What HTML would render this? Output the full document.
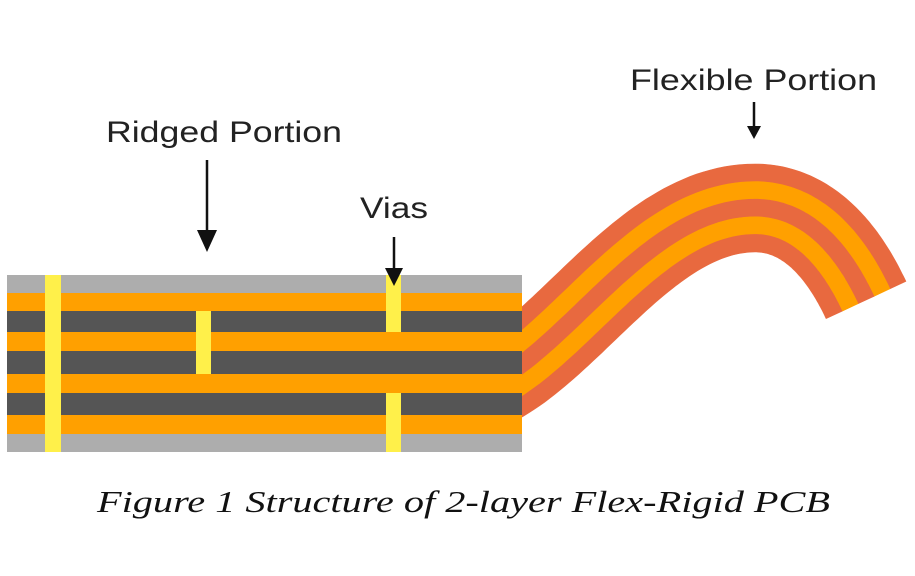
<!DOCTYPE html>
<html><head><meta charset="utf-8"><style>html,body{margin:0;padding:0;background:#fff}svg{display:block}</style></head>
<body>
<svg id="s" width="915" height="576" viewBox="0 0 915 576" xmlns="http://www.w3.org/2000/svg">
<defs><clipPath id="c"><rect x="522" y="0" width="400" height="576"/></clipPath></defs>
<g id="flex" clip-path="url(#c)"></g>
<rect x="7" y="275" width="515" height="18" fill="#ADADAD"/>
<rect x="7" y="293" width="515" height="18" fill="#FFA000"/>
<rect x="7" y="311" width="515" height="21" fill="#555555"/>
<rect x="7" y="332" width="515" height="19" fill="#FFA000"/>
<rect x="7" y="351" width="515" height="23" fill="#555555"/>
<rect x="7" y="374" width="515" height="19" fill="#FFA000"/>
<rect x="7" y="393" width="515" height="22" fill="#555555"/>
<rect x="7" y="415" width="515" height="19" fill="#FFA000"/>
<rect x="7" y="434" width="515" height="18" fill="#ADADAD"/>
<g fill="#FFF04A">
<rect x="45" y="275" width="16" height="177"/>
<rect x="196" y="311" width="15" height="63"/>
<rect x="386" y="275" width="15" height="57"/>
<rect x="386" y="393" width="15" height="59"/>
</g>
<g stroke="#111" stroke-width="2.5">
<line x1="207" y1="160" x2="207" y2="238"/>
<line x1="394" y1="237" x2="394" y2="272"/>
<line x1="754" y1="102" x2="754" y2="128"/>
</g>
<g fill="#111">
<polygon points="197,230 217,230 207,252"/>
<polygon points="385,268 403,268 394,286"/>
<polygon points="747,126 761,126 754,139"/>
</g>
<g font-family="Liberation Sans, Arial, sans-serif" font-size="30" fill="#222">
<text x="106" y="142" textLength="236" lengthAdjust="spacingAndGlyphs">Ridged Portion</text>
<text x="360" y="218" textLength="68" lengthAdjust="spacingAndGlyphs">Vias</text>
<text x="630" y="90" textLength="247" lengthAdjust="spacingAndGlyphs">Flexible Portion</text>
</g>
<text x="97" y="512" font-family="Liberation Serif, serif" font-style="italic" font-size="31" fill="#111" textLength="733" lengthAdjust="spacingAndGlyphs">Figure 1 Structure of 2-layer Flex-Rigid PCB</text>
</svg>
<script>
(function(){
var segs=[[[470,392],[560,367],[640,208],[755,208]],[[755,208],[810,208],[845,255],[866,300]]];
var pts=[];
segs.forEach(function(s,si){
  for(var i=(si?1:0);i<=60;i++){
    var t=i/60,u=1-t;
    var x=u*u*u*s[0][0]+3*u*u*t*s[1][0]+3*u*t*t*s[2][0]+t*t*t*s[3][0];
    var y=u*u*u*s[0][1]+3*u*u*t*s[1][1]+3*u*t*t*s[2][1]+t*t*t*s[3][1];
    var dx=3*u*u*(s[1][0]-s[0][0])+6*u*t*(s[2][0]-s[1][0])+3*t*t*(s[3][0]-s[2][0]);
    var dy=3*u*u*(s[1][1]-s[0][1])+6*u*t*(s[2][1]-s[1][1])+3*t*t*(s[3][1]-s[2][1]);
    var l=Math.hypot(dx,dy);
    pts.push([x,y,-dy/l,dx/l]);
  }
});
var off=[-44,-26.4,-8.8,8.8,26.4,44],cols=["#E8693F","#FFA000","#E8693F","#FFA000","#E8693F"];
var g=document.getElementById("flex"),h="";
for(var b=0;b<5;b++){
  var a=off[b],c=off[b+1],d="";
  pts.forEach(function(p,i){d+=(i?"L":"M")+(p[0]+p[2]*a).toFixed(1)+","+(p[1]+p[3]*a).toFixed(1);});
  for(var i=pts.length-1;i>=0;i--){var p=pts[i];d+="L"+(p[0]+p[2]*c).toFixed(1)+","+(p[1]+p[3]*c).toFixed(1);}
  h+='<path d="'+d+'Z" fill="'+cols[b]+'" stroke="'+cols[b]+'" stroke-width="0.6"/>';
}
g.innerHTML=h;
})();
</script>
</body></html>
